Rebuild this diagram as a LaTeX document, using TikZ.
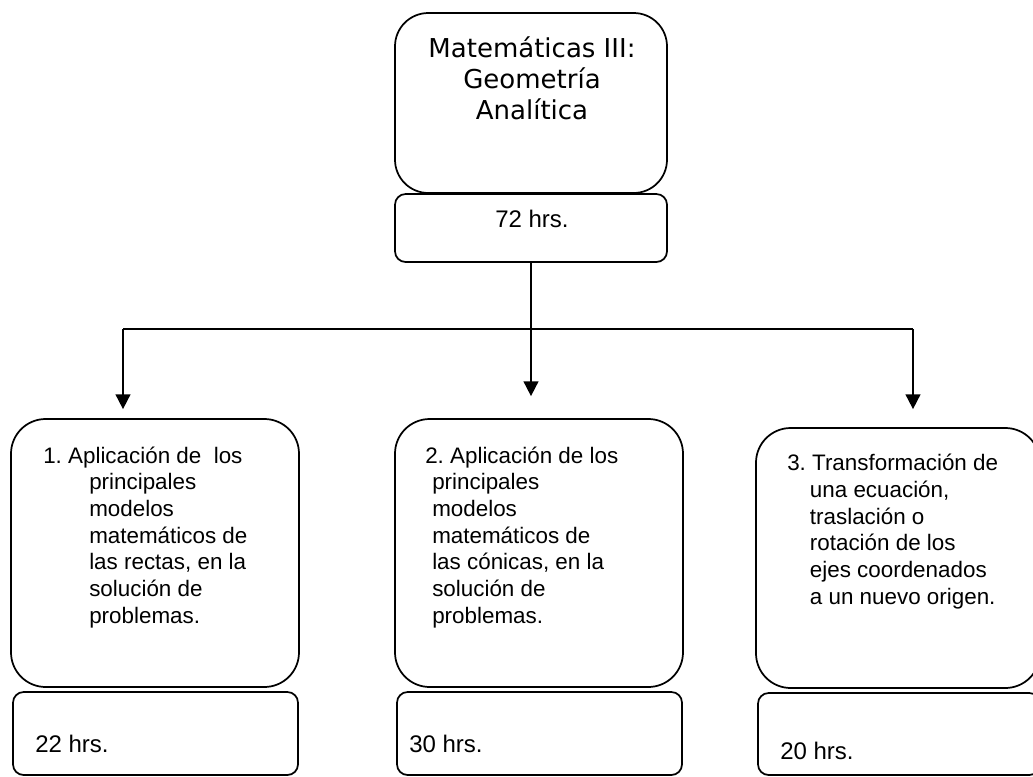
\documentclass[tikz,border=0pt]{standalone}
\usepackage{fontspec}
\setmainfont{Liberation Sans}
\newfontfamily\titulofont{DejaVu Sans}
\usetikzlibrary{arrows.meta}
\usetikzlibrary{fit}
\definecolor{mtink}{HTML}{000000}
\tikzset{
  mcaja/.style={
    draw=mtink, line width=1.3pt, inner sep=0pt, rounded corners=25pt},
  mhoras/.style={
    draw=mtink, line width=1.3pt, inner sep=0pt, rounded corners=8pt},
  mflecha/.style={-{Triangle[length=11pt, width=11pt]}, draw=mtink,
    line width=1.3pt},
  mlinea/.style={draw=mtink, line width=1.3pt},
  mtexto/.style={anchor=base west, inner sep=0pt, align=left, text=mtink,
    font=\frenchspacing\fontsize{16.8}{20}\selectfont},
  mhrs/.style={anchor=base west, inner sep=0pt, text=mtink,
    font=\fontsize{18}{22}\selectfont},
  mtitulo/.style={anchor=base, inner sep=0pt, align=center, text=mtink,
    font=\titulofont\fontsize{19.5}{23.25}\selectfont},
}
\newcommand{\sangria}[1]{\hspace*{#1}}

\begin{document}
\begin{tikzpicture}[x=0.75pt, y=-0.75pt]
\useasboundingbox (0, 0) rectangle (1033, 776);

% Course and total hours (text nodes sit on the base of their last line).
\node[mcaja, fit={(395, 13) (667, 193)}] (curso) {};
\node[mtitulo] (tcurso) at (532, 119)
  {Matemáticas III:\\Geometría\\Analítica};
\node[mhoras, fit={(395, 194) (667, 262)}] (hcurso) {};
\node[mhrs, anchor=base] (thcurso) at (532, 227) {72 hrs.};

% Branches.
\coordinate (ramaI) at (123, 329);
\coordinate (ramaD) at (913, 329);
\draw[mlinea] (ramaI) -- (ramaD);

% Unit 1.
\node[mcaja, rounded corners=26pt, fit={(11, 419) (299, 687)}] (u1) {};
\node[mtexto] (tu1) at (43, 623)
  {1. Aplicación de\ \ los\\
   \sangria{34.5pt}principales\\
   \sangria{34.5pt}modelos\\
   \sangria{34.5pt}matemáticos de\\
   \sangria{34.5pt}las rectas, en la\\
   \sangria{34.5pt}solución de\\
   \sangria{34.5pt}problemas.};
\node[mhoras, fit={(13, 692) (298, 775)}] (h1) {};
\node[mhrs] (th1) at (35, 752) {22 hrs.};
\draw[mflecha, shorten >=6.75pt] (ramaI) -- (ramaI |- u1.north);

% Unit 2.
\node[mcaja, rounded corners=26pt, fit={(395, 419) (683, 687)}] (u2) {};
\node[mtexto] (tu2) at (425, 623)
  {2. Aplicación de los\\
   \sangria{5.25pt}principales\\
   \sangria{5.25pt}modelos\\
   \sangria{5.25pt}matemáticos de\\
   \sangria{5.25pt}las cónicas, en la\\
   \sangria{5.25pt}solución de\\
   \sangria{5.25pt}problemas.};
\node[mhoras, fit={(397, 692) (682, 775)}] (h2) {};
\node[mhrs] (th2) at (409, 752) {30 hrs.};
\draw[mflecha, shorten >=16.5pt] (hcurso.south) -- (hcurso.south |- u2.north);

% Unit 3.
\node[mcaja, rounded corners=26pt, fit={(756, 428) (1040, 688)}] (u3) {};
\node[mtexto] (tu3) at (787, 604)
  {3. Transformación de\\
   \sangria{17pt}una ecuación,\\
   \sangria{17pt}traslación o\\
   \sangria{17pt}rotación de los\\
   \sangria{17pt}ejes coordenados\\
   \sangria{17pt}a un nuevo origen.};
\node[mhoras, fit={(758, 693) (1040, 775)}] (h3) {};
\node[mhrs] (th3) at (780, 759) {20 hrs.};
\draw[mflecha, shorten >=13.5pt] (ramaD) -- (ramaD |- u3.north);

\end{tikzpicture}
\end{document}
